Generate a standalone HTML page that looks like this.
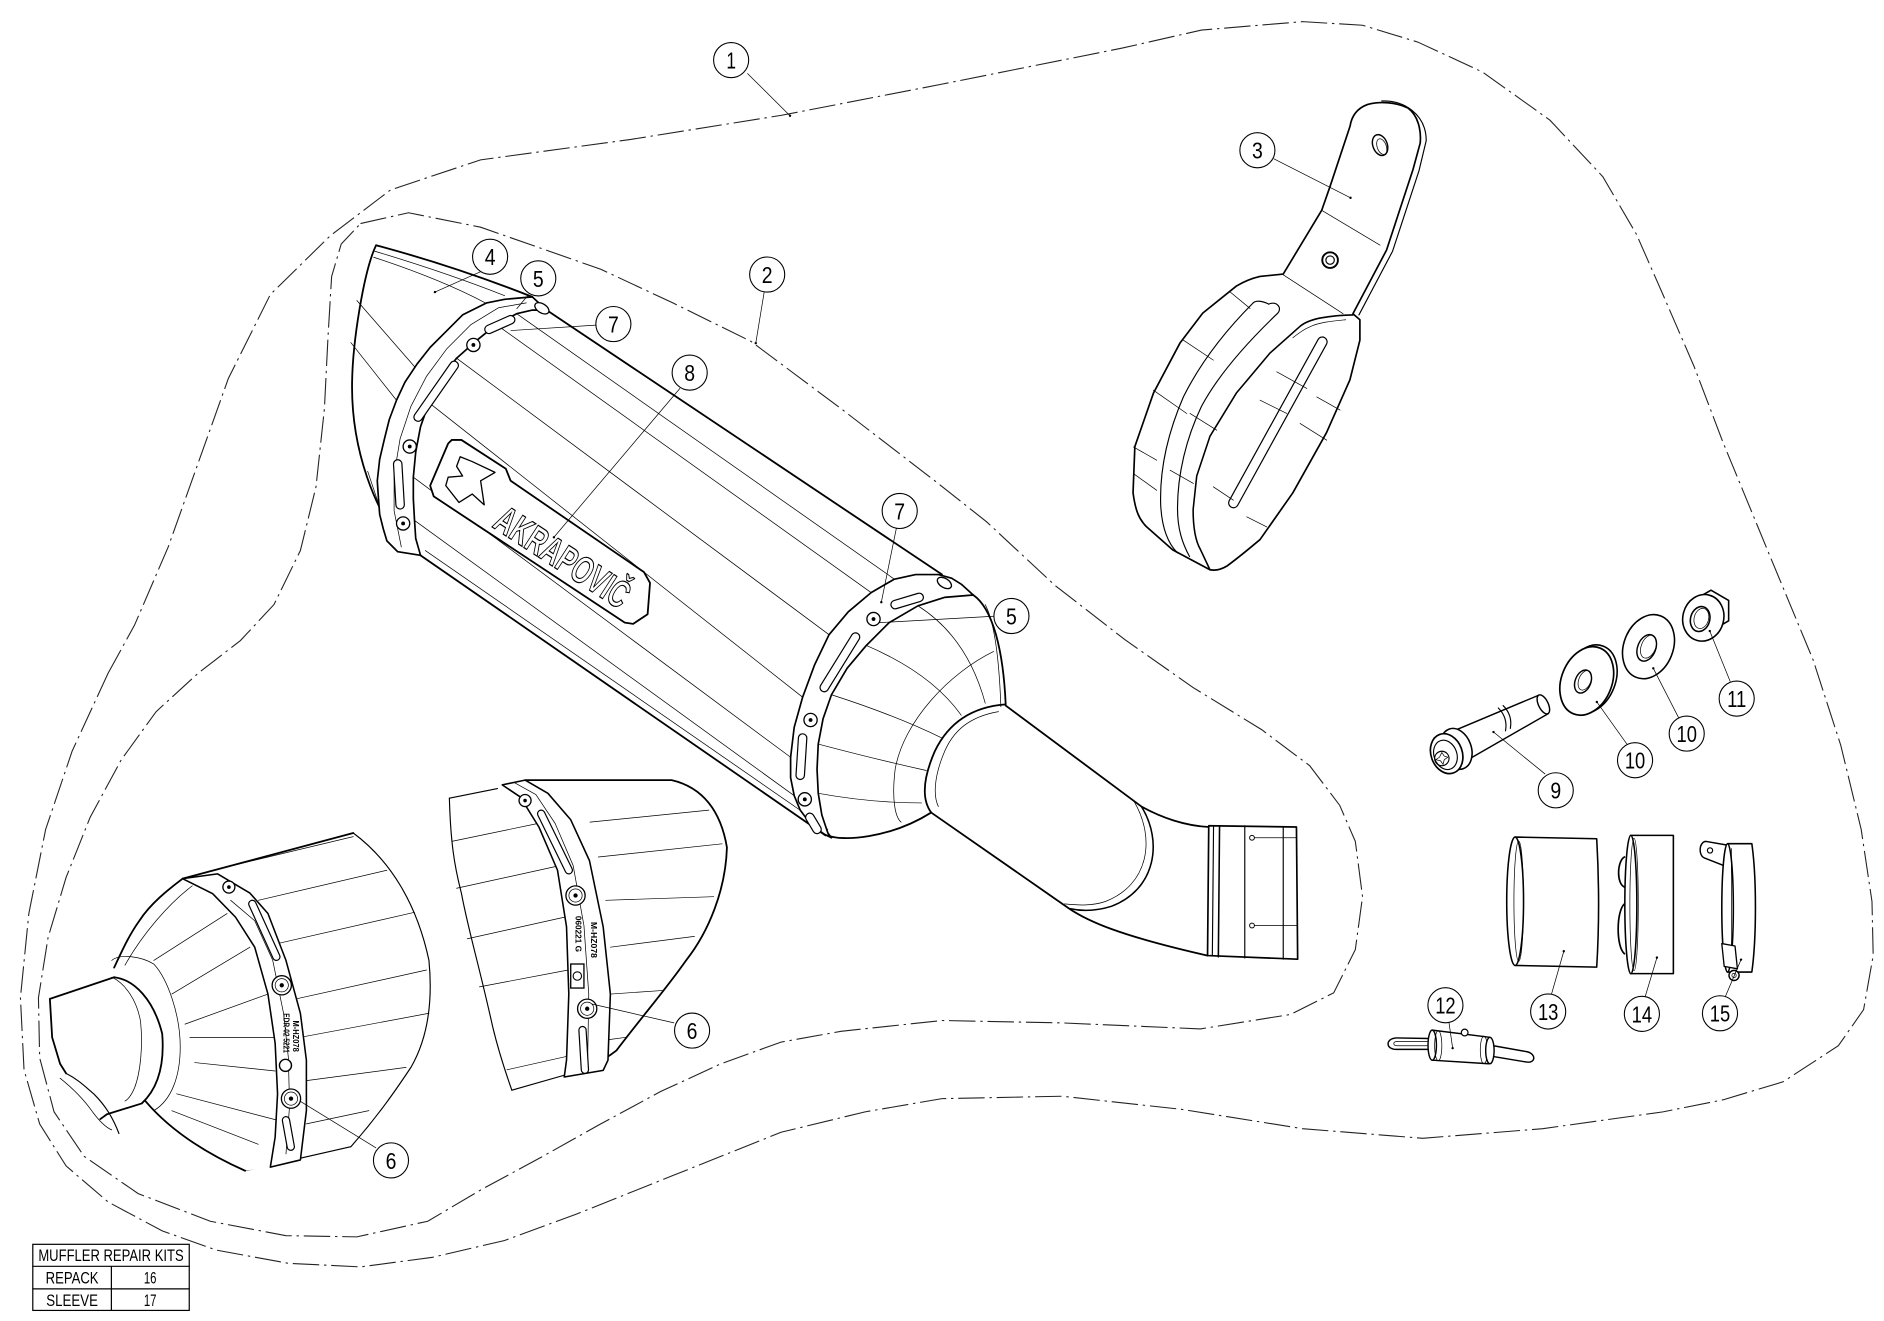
<!DOCTYPE html>
<html><head><meta charset="utf-8"><style>
html,body{margin:0;padding:0;background:#fff}
svg{display:block}
.s{fill:none;stroke:#000;stroke-linejoin:round;stroke-linecap:round}
.w{fill:#fff;stroke:#000;stroke-linejoin:round}
.t{stroke-width:.6}.m{stroke-width:.95}.b{stroke-width:1.5}
.d{fill:none;stroke:#222;stroke-width:.9;stroke-dasharray:22 4 2 4}
.co circle{fill:#fff;stroke:#000;stroke-width:.9}
.co text{font-family:"Liberation Sans Narrow","Liberation Sans",sans-serif;font-size:19px;text-anchor:middle;fill:#000}
.ld{fill:none;stroke:#000;stroke-width:.6}
.tb{font-family:"Liberation Sans Narrow","Liberation Sans",sans-serif;font-size:14px;fill:#000;text-anchor:middle}
.sm{font-family:"Liberation Sans",sans-serif;font-size:6.5px;font-weight:bold;fill:#000}
</style></head><body>
<svg width="1884" height="1321" viewBox="0 0 1568 1099" preserveAspectRatio="none" xmlns="http://www.w3.org/2000/svg">
<rect width="1568" height="1099" fill="#fff"/>

<!-- boundary 1 (outer) -->
<path class="d" d="M90,560 L112,520 L140,455 L165,385 L190,315 L225,245 L275,196 L325,158 L400,133 L525,116 L650,96 L784,70 L934,40 L1000,25 L1084,18 L1134,21 L1180,35 L1234,60 L1290,100 L1334,147 L1362,195 L1384,245 L1410,305 L1434,368 L1472,460 L1509,549 L1532,620 L1549,690 L1558,750 L1559,795 L1551,840 L1530,870 L1484,900 L1434,915 L1384,925 L1284,939 L1184,947 L1084,939 L984,923 L884,912 L784,914 L720,925 L650,942 L560,978 L480,1010 L420,1032 L360,1046 L300,1054 L240,1051 L180,1040 L135,1024 L90,1000 L55,970 L33,935 L20,890 L17,830 L24,760 L38,690 L60,625 Z"/>
<!-- boundary 2 (inner) -->
<path class="d" d="M300,186 L340,177 L400,189 L500,224 L560,252 L625,284 L700,340 L778,400 L821,434 L878,487 L936,532 L993,572 L1050,607 L1090,637 L1115,670 L1128,700 L1134,746 L1128,790 L1110,826 L1074,844 L999,856 L884,851 L784,849 L700,858 L650,867 L600,885 L550,908 L500,935 L450,963 L400,990 L356,1016 L297,1029 L238,1028 L175,1016 L115,993 L70,962 L45,925 L33,880 L32,830 L40,780 L55,730 L75,680 L101,632 L130,592 L165,560 L200,533 L228,503 L250,458 L263,405 L270,340 L273,280 L276,230 L284,203 Z"/>

<!-- ============ MAIN MUFFLER ============ -->
<!-- body lines -->
<path class="s b" d="M455,258 L784,478"/>
<path class="s b" d="M350,462 L687,695"/>
<path class="s t" d="M354,458 L689,690"/>
<path class="s t" d="M430,261 L746,483 M413,270 L725,493 M380,298 L690,528 M357,335 L668,580 M344,397 L658,630 M345,433 L661,662"/>

<!-- front cap -->
<path class="s b" d="M443,247 Q380,222 313,204 C303,225 293,285 293,322 C293,372 310,425 341,460"/>
<path class="s t" d="M312,209 Q372,227 420,246 M311,214 Q366,232 404,252"/>
<path class="s t" d="M297,250 L345,305 M292,285 L330,333 M306,392 L318,428"/>
<!-- front band -->
<path class="w" stroke-width="1.4" d="M443,247 L420,249 L405,252 L385,262 L372,275 L358,289 L347,303 L337,318 L330,333 L324,349 L320,365 L316,382 L314,400 L315,415 L316,428 L319,440 L322,450 L331,459 L350,462 L346,448 L345,433 L344,415 L344,397 L346,376 L350,355 L357,335 L366,316 L380,298 L397,283 L413,270 L430,261 L443,258 L455,258 Z"/>
<path class="s t" d="M438,252 L415,256 L392,270 L372,290 L355,313 L342,338 L333,365 L328,395 L328,425 L334,455"/>
<!-- front slots -->
<g fill="none" stroke-linecap="round">
<path d="M407,274 L425,266 M378,304 L348,347 M331,386 L333,420" stroke="#000" stroke-width="8"/>
<path d="M407,274 L425,266 M378,304 L348,347 M331,386 L333,420" stroke="#fff" stroke-width="6"/>
</g>
<!-- front rivets -->
<g class="w" stroke-width="1.1">
<circle cx="394" cy="287" r="5.5"/><circle cx="341" cy="371.5" r="5.5"/><circle cx="335.5" cy="435.5" r="5.5"/>
<ellipse cx="451" cy="256.5" rx="6.5" ry="3.8" transform="rotate(32 451 256.5)"/>
</g>
<g fill="#000"><circle cx="394" cy="287" r="1.6"/><circle cx="341" cy="371.5" r="1.6"/><circle cx="335.5" cy="435.5" r="1.6"/></g>

<!-- logo plate -->
<path class="w" stroke-width="1.5" d="M376,366 L384,366 L421,390 L425,400 L536,476 L541,485 L539,511 L527,519 L520,518 L361,413 L358,404 L373,369 Z"/>
<path class="s" stroke-width="1.1" d="M383,380 L393,384 L412,393 L400,400 L403,420 L393,411 L382,418 L371,404 L373,397 L385,396 L380,388 Z"/>
<text transform="translate(409,438) rotate(33)" font-family="Liberation Sans Narrow,Liberation Sans,sans-serif" font-size="32" font-weight="bold" textLength="127" lengthAdjust="spacingAndGlyphs" fill="#fff" stroke="#000" stroke-width="1">AKRAPOVIČ</text>

<!-- rear band -->
<path class="w" stroke-width="1.4" d="M792,481 L781,478 L762,478 L744,482 L725,493 L706,509 L690,528 L678,553 L668,580 L661,605 L658,630 L658,647 L661,662 L666,674 L675,686 L686,694 L692,697 L689,693 L684,678 L681,660 L680,640 L681,619 L685,598 L692,578 L705,556 L721,537 L740,518 L764,504 L786,497 L810,495 L800,486 Z"/>
<g fill="none" stroke-linecap="round">
<path d="M745,503 L765,497 M712,530 L686,572 M668,614 L666,645 M674,680 L680,690" stroke="#000" stroke-width="8"/>
<path d="M745,503 L765,497 M712,530 L686,572 M668,614 L666,645 M674,680 L680,690" stroke="#fff" stroke-width="6"/>
</g>
<g class="w" stroke-width="1.1">
<circle cx="727" cy="515" r="5.5"/><circle cx="674.6" cy="599" r="5.5"/><circle cx="669.8" cy="665" r="5.5"/>
<ellipse cx="786" cy="485" rx="6.5" ry="3.8" transform="rotate(32 786 485)"/>
</g>
<g fill="#000"><circle cx="727" cy="515" r="1.6"/><circle cx="674.6" cy="599" r="1.6"/><circle cx="669.8" cy="665" r="1.6"/></g>

<!-- rear cone -->
<path class="s b" d="M810,495 C826,506 835,540 837,586"/>
<path class="s b" d="M689,695 C700,700 740,698 775,676"/>
<path class="s t" d="M764,504 Q805,530 820,585 M721,537 Q775,560 800,595 M692,578 Q745,595 784,614 M681,619 Q730,632 771,641 M681,660 Q725,668 767,668"/>
<path class="s t" d="M827,542 C790,560 752,600 745,640 C742,665 745,680 750,684"/>
<path class="s t" d="M820,503 C829,520 832,560 833,588"/>
<!-- link pipe -->
<path class="s b" d="M837,586 C810,588 790,600 778,625 C768,648 767,665 775,676"/>
<path class="s t" d="M831,592 C808,596 793,607 785,628 C777,648 777,663 781,671"/>
<path class="s b" d="M837,587 L950,671 C966,680 986,687 1006,688"/>
<path class="s b" d="M775,676 L890,756 C905,766 930,778 1005,795"/>
<path class="s" stroke-width="1.3" d="M950,671 C968,700 962,740 925,754 C912,758 900,758 891,756"/>
<path class="s t" d="M944,667 C962,698 956,736 920,750 C908,754 896,753 886,752"/>
<!-- end sleeve -->
<path class="w" stroke-width="1.4" d="M1006,687 L1079,688 L1080,798 L1005,795 Z"/>
<path class="s m" d="M1010,687 L1009,795 M1036,687 L1036,797 M1068,688 L1068,798"/>
<path class="s" stroke-width="1.3" d="M1015,687 L1014,796"/>
<path class="s t" d="M1044,697 L1079,697 M1044,770 L1079,770"/>
<circle cx="1042" cy="697" r="2" class="w" stroke-width=".8"/>
<circle cx="1042" cy="770" r="2" class="w" stroke-width=".8"/>

<!-- ============ DETAIL A ============ -->
<path fill="#fff" d="M152,731 L294,693 C322,715 345,752 357,799 C360,830 357,860 341,888 C330,905 318,925 292,954 L204,974 L181,964 Z"/>
<path class="s b" d="M152,731 L294,693"/>
<path class="s t" d="M173,725 L294,696"/>
<path class="s m" d="M294,693 C325,716 347,752 357,799 C360,830 357,862 342,888 C330,906 315,928 292,954"/>
<path class="s m" d="M292,954 L204,974"/>
<path class="s t" d="M215,749 L322,724 M231,785 L345,759 M242,832 L355,807 M250,863 L357,843 M255,899 L338,888 M255,935 L307,924"/>
<!-- cap face A -->
<path fill="#fff" d="M152,731 L181,727 L225,971 L204,974 C170,962 140,940 121,916 L95,805 C110,775 130,750 152,731 Z"/>
<path class="s b" d="M152,731 C140,740 125,752 116,766 C108,777 102,790 95,805"/>
<path class="s b" d="M121,916 Q150,950 204,974"/>
<path class="s t" d="M160,737 C140,752 118,778 104,803"/>
<path class="s t" d="M93,799 C100,793 118,796 128,802 C140,815 150,845 150,871 C150,895 143,915 128,924"/>
<path class="s t" d="M128,799 L189,760 M143,827 L208,788 M154,852 L223,827 M158,863 L231,863 M162,884 L229,891 M147,910 L231,932 M143,924 L215,952"/>
<!-- band A -->
<path class="w" stroke-width="1.3" d="M152,731 L181,727 L208,743 L223,760 L238,799 L250,843 L255,882 L255,924 L250,965 L225,971 L229,946 L231,910 L229,868 L223,827 L212,788 L196,763 L177,743.5 Z"/>
<path class="s t" d="M192,749 L212,766 L227,799 L236,843 L240,880 L241,920 L238,960"/>
<g fill="none" stroke-linecap="round">
<path d="M210,752 L230,796 M238,932 L242,954" stroke="#000" stroke-width="7"/>
<path d="M210,752 L230,796 M238,932 L242,954" stroke="#fff" stroke-width="5"/>
</g>
<g class="w" stroke-width="1.1">
<circle cx="190.5" cy="738" r="5"/><circle cx="234.5" cy="819.7" r="8"/><circle cx="242.2" cy="914" r="8"/>
</g>
<g class="s t"><circle cx="234.5" cy="819.7" r="5.5"/><circle cx="242.2" cy="914" r="5.5"/></g>
<g fill="#000"><circle cx="190.5" cy="738" r="1.5"/><circle cx="234.5" cy="819.7" r="1.8"/><circle cx="242.2" cy="914" r="1.8"/></g>
<text class="sm" transform="translate(236,843) rotate(90)" textLength="33" lengthAdjust="spacingAndGlyphs">EDR-02 5221</text>
<text class="sm" transform="translate(244,849) rotate(90)" textLength="26" lengthAdjust="spacingAndGlyphs">M-HZ078</text>
<circle cx="237.6" cy="886.3" r="5" fill="#fff" stroke="#000" stroke-width="1.2"/>
<!-- tube A -->
<path class="w" stroke-width="0" d="M41.5,831 L95,813 C112,815 128,832 135,860 C137,885 130,908 118,918 L89,927 L83,931 C75,920 65,905 55,893 L43,863 Z"/>
<path class="s b" d="M41.5,831 L95,813 M41.5,831 L43.4,863 L50,885 L55,893"/>
<path class="s b" d="M95,813 C112,815 128,832 135,860 C137,885 132,905 118,918 L89,927 L83.5,931"/>
<path class="s t" d="M93,813 C104,818 114,832 117,850 C119,870 117,892 112,905 C109,912 106,915 104,916"/>
<path class="s m" d="M55,893 C65,898 72,905 78,910 C88,920 94,930 99,943"/>
<path class="s t" d="M50,897 C60,905 70,915 77,925 C83,933 88,938 93,940"/>

<!-- ============ DETAIL B ============ -->
<path fill="#fff" d="M374,664 L418,652 L559,649 C585,655 600,675 605,705 C604,740 590,775 571,799 C555,822 535,845 513,874 C500,884 490,888 475,893 L426,907 C410,860 395,810 384,743 C378,720 375,690 374,664 Z"/>
<path class="s m" d="M374,664 C375,700 378,720 384,743 C390,775 398,800 410,854 C415,875 420,890 426,907"/>
<path class="s m" d="M374,664 L414,656"/>
<path class="s b" d="M437,649 L559,649 C585,655 600,675 605,705 C604,740 590,775 571,799 C555,822 535,845 513,874 C500,884 490,888 475,893"/>
<path class="s m" d="M475,893 L426,907"/>
<path class="s t" d="M376,700 L448,685 M380,739 L462,721 M389,781 L470,763 M399,821 L473,807 M422,890 L471,879"/>
<path class="s t" d="M491,684 L590,674 M498,713 L601,702 M504,749 L594,746 M508,788 L578,779 M508,827 L552,824 M506,865 L521,863"/>
<path class="w" stroke-width="1.3" d="M418,653 L433,663 L448.5,688 L464,724 L471.5,771 L473.4,827 L471.5,882 L469.6,896 L502,890.5 L506,882 L508,827 L502,771 L490.6,716 L475,682 L456,660 L437,649 Z"/>
<path class="s t" d="M428,651 L446,661 L462,685 L477,720 L486,770 L490,827 L489,888"/>
<g fill="none" stroke-linecap="round">
<path d="M450.4,677 L473.4,724 M484.8,857 L486.8,890" stroke="#000" stroke-width="7"/>
<path d="M450.4,677 L473.4,724 M484.8,857 L486.8,890" stroke="#fff" stroke-width="5"/>
</g>
<g class="w" stroke-width="1.1">
<circle cx="437" cy="666" r="5"/><circle cx="479" cy="745" r="8"/><circle cx="488.7" cy="839.2" r="8"/>
</g>
<g class="s t"><circle cx="479" cy="745" r="5.5"/><circle cx="488.7" cy="839.2" r="5.5"/></g>
<g fill="#000"><circle cx="437" cy="666" r="1.5"/><circle cx="479" cy="745" r="1.8"/><circle cx="488.7" cy="839.2" r="1.8"/></g>
<text class="sm" transform="translate(479,762) rotate(90)" textLength="30" lengthAdjust="spacingAndGlyphs">060221 G</text>
<text class="sm" transform="translate(492,767) rotate(90)" textLength="30" lengthAdjust="spacingAndGlyphs">M-HZ078</text>
<rect x="475" y="802" width="11" height="20" fill="#fff" stroke="#000" stroke-width="1.1"/>
<circle cx="480.5" cy="812" r="3.5" fill="none" stroke="#000" stroke-width=".9"/>

<!-- ============ BRACKET 3 ============ -->
<path class="s m" d="M1150,84 C1168,83 1187,95 1187,117 L1181,142 L1159,209 L1131,262"/>
<path class="w" stroke-width="1.4" d="M1068,228 L1100,175 L1107,155 L1123.6,105 C1125,96 1130,90 1138,87 C1148,84 1162,85 1172,90 C1180,96 1183,108 1182,119 L1176,141 L1154,208 L1126,261 L1131.8,266 L1131.8,283 L1123.5,316 L1104,360 L1076,410 L1048.6,449 C1040,456 1032,463 1021,471 C1016,474 1012,475 1007,474 L976,457.5 L954,438 C948,432 945,425 943,410 L944.5,371.5 L960,327 L982,285.5 L1001,260.5 L1029,238 C1034,235 1040,232 1048.6,230 Z"/>
<path class="s t" d="M1100,175 L1148.6,204 M1068,228.6 L1117.8,261"/>
<ellipse cx="1148.6" cy="120.7" rx="6" ry="9" transform="rotate(-20 1148.6 120.7)" class="w" stroke-width="1.2"/>
<ellipse cx="1150" cy="122" rx="3.8" ry="6.8" transform="rotate(-20 1150 122)" class="s t"/>
<circle cx="1107" cy="216.4" r="6.5" class="w" stroke-width="1.6"/>
<circle cx="1107" cy="216.4" r="3.5" class="s m"/>
<path class="s" stroke-width="1.3" d="M1126,262 C1118,262 1108,263 1098.5,264.6 C1092,266 1086,268 1082,271.5 L1057,293.7 L1029,327 L1007,363 L996,396 L993,424 C993,440 995,450 999,457 L1007,474"/>
<path class="s t" d="M1120,266 C1110,267 1098,268 1090,272 C1085,274 1081,277 1076,281"/>
<path class="s m" d="M1056,253 C1062,250 1068,256 1063,261 M1043,252 C1020,275 1000,300 985,330 C972,360 965,390 966,420 C967,440 972,452 980,460"/>
<path class="s m" d="M1056,253 C1050,250 1045,250 1043,252 M1063,261 C1040,283 1015,310 1000,338 C987,365 980,395 980,423 C980,440 984,452 990,463"/>
<g fill="none" stroke-linecap="round">
<path d="M1100.5,284.4 L1026.6,418.4" stroke="#000" stroke-width="9"/>
<path d="M1100.5,284.4 L1026.6,418.4" stroke="#fff" stroke-width="7"/>
</g>
<path class="s t" d="M1023.7,242.8 L1040.4,256.6 M984.9,283 L1009.8,299.6 M959.9,324.6 L987.7,344 M943.3,371.8 L962.7,382.9 M943.3,394 L962.7,407.9 M1062.6,309.3 L1087.6,323.2 M1095.9,330.2 L1115.3,341.2 M1048.7,332.9 L1070.9,344 M990.4,344 L1012.7,357.9 M1082,352.3 L1104.2,366.2 M973.8,391.2 L993.2,402.2 M1009.8,405 L1026.5,416.1 M1037.6,430 L1054.3,438.4"/>

<!-- ============ HARDWARE ============ -->
<!-- bolt 9 -->
<path class="w" stroke-width="1.2" d="M1211,607.6 L1280.3,578.5 L1288.6,593.7 L1223.5,631 Z"/>
<ellipse cx="1284.5" cy="586" rx="4" ry="8.6" transform="rotate(-26 1284.5 586)" class="w" stroke-width="1.2"/>
<path class="s m" d="M1247,589 Q1255,597 1253,608 M1251,587 Q1259,595 1257,606"/>
<ellipse cx="1212" cy="623" rx="12.5" ry="17.5" transform="rotate(-20 1212 623)" class="w" stroke-width="1.3"/>
<ellipse cx="1204" cy="627" rx="13" ry="17" transform="rotate(-20 1204 627)" class="w" stroke-width="1.4"/>
<ellipse cx="1203" cy="628" rx="9.5" ry="12.5" transform="rotate(-20 1203 628)" class="s m"/>
<circle cx="1200" cy="631" r="6" class="s m"/>
<path class="s t" d="M1200,626 L1202,629 L1205,630 L1202,632 L1201,636 L1199,633 L1195,632 L1198,630 Z"/>
<!-- washer 10a -->
<ellipse cx="1323.5" cy="565" rx="21" ry="29.5" transform="rotate(22 1323.5 565)" class="w" stroke-width="1.3"/>
<ellipse cx="1320.6" cy="566.5" rx="21" ry="29.5" transform="rotate(22 1320.6 566.5)" class="w" stroke-width="1.4"/>
<ellipse cx="1317.5" cy="567" rx="6.5" ry="10" transform="rotate(22 1317.5 567)" class="w" stroke-width="1.2"/>
<ellipse cx="1319" cy="566" rx="5" ry="8.5" transform="rotate(22 1319 566)" class="s t"/>
<!-- washer 10b -->
<ellipse cx="1372" cy="538" rx="20.5" ry="27.5" transform="rotate(22 1372 538)" class="w" stroke-width="1.3"/>
<ellipse cx="1370.5" cy="539" rx="7.5" ry="11.5" transform="rotate(22 1370.5 539)" class="w" stroke-width="1.2"/>
<ellipse cx="1372" cy="538" rx="6" ry="10" transform="rotate(22 1372 538)" class="s t"/>
<!-- nut 11 -->
<path class="w" stroke-width="1.3" d="M1424,491 L1438.7,499.5 L1438.7,516.5 L1424,525 L1409.3,516.5 L1409.3,499.5 Z"/>
<ellipse cx="1417.6" cy="514" rx="17" ry="19.5" transform="rotate(15 1417.6 514)" class="w" stroke-width="1.3"/>
<ellipse cx="1415" cy="515" rx="8" ry="10.5" transform="rotate(15 1415 515)" class="w" stroke-width="1.3"/>
<ellipse cx="1416" cy="514.5" rx="6" ry="8.5" transform="rotate(15 1416 514.5)" class="s t"/>
<!-- sleeve 13 -->
<path class="w" stroke-width="1.3" d="M1261,696.4 L1328.9,697.8 C1331,735 1331,770 1328.9,804.6 L1261,803.2 Z"/>
<ellipse cx="1261" cy="749.8" rx="7" ry="53.4" class="w" stroke-width="1.3"/>
<ellipse cx="1264" cy="749.8" rx="4" ry="50" class="s t"/>
<!-- sleeve 14 -->
<path class="w" stroke-width="1.3" d="M1357,695 L1392.7,695 L1392.7,810 L1357,810 Z"/>
<ellipse cx="1357.3" cy="752.5" rx="5" ry="57.5" class="w" stroke-width="1.3"/>
<ellipse cx="1360" cy="752.5" rx="3.5" ry="55" class="s t"/>
<path class="s" stroke-width="1.4" d="M1352,713 C1346,716 1345,735 1352,738 M1352,752 C1345,758 1345,788 1352,793.5"/>
<!-- clamp 15 -->
<path class="w" stroke-width="1.2" d="M1437,703 L1420,700 C1414,700 1413,712 1419,714 L1437,721 Z"/>
<circle cx="1423.2" cy="707.5" r="2.2" class="s m"/>
<path class="w" stroke-width="1.3" d="M1438,701.9 L1458,701.9 C1462,730 1462,780 1458,808.7 L1438,808.7 Z"/>
<ellipse cx="1437.8" cy="755.3" rx="4.8" ry="53.4" class="w" stroke-width="1.3"/>
<path class="s t" d="M1441,706 L1441,804"/>
<path class="w" stroke-width="1.1" d="M1433,785 L1444,787 L1446,806 L1435,804 Z"/>
<circle cx="1443.2" cy="811.5" r="4.2" class="w" stroke-width="1.2"/>
<circle cx="1443.2" cy="811.5" r="1.8" class="s t"/>
<!-- spring 12 -->
<path class="s" stroke-width="1.2" d="M1189,864 L1162,863.5 C1153,864 1153,873 1162,873 L1189,873"/>
<path class="s t" d="M1189,866.5 L1163,866.5 C1159,866.5 1159,870 1163,870 L1189,870"/>
<path class="s" stroke-width="1.2" d="M1243,870 L1271,875 C1279,877 1278,885 1270,883.5 L1243,879"/>
<path class="w" stroke-width="1.2" d="M1192,857 L1240,863 L1239,885 L1192,882 Z"/>
<ellipse cx="1192" cy="869.5" rx="3.5" ry="12.5" class="w" stroke-width="1.2"/>
<ellipse cx="1197" cy="870" rx="3" ry="12.5" class="s t"/>
<ellipse cx="1235" cy="873.5" rx="3" ry="11.5" class="s t"/>
<ellipse cx="1240" cy="874" rx="3.5" ry="11" class="w" stroke-width="1.2"/>
<circle cx="1219" cy="859" r="2.8" class="w" stroke-width="1"/>

<!-- ============ LEADERS ============ -->
<path class="ld" d="M622,61 L657.5,96.3 M636,243 L629,285.5 M1060,132 L1124,164.6 M400,226 L362,243 M440,245 L430,257 M496,270.5 L425,275 M566,323 L461,447 M746,439.5 L733.5,501 M827,512.7 L732,518 M313,955 L249.6,916 M561,851 L492.5,835.3 M1286,644 L1243,609 M1354,619 L1329,584 M1397,597 L1376,556 M1440,567 L1423,525 M1206,851 L1209,872 M1291,828 L1301.5,791.4 M1369,830 L1379,796.7 M1436,829 L1449,798.4"/>
<g fill="#000">
<circle cx="657.5" cy="96.3" r="1"/><circle cx="629" cy="285.5" r="1"/><circle cx="1124" cy="164.6" r="1"/><circle cx="362" cy="243" r="1"/><circle cx="461" cy="447" r="1"/><circle cx="733.5" cy="501" r="1"/><circle cx="1243" cy="609" r="1"/><circle cx="1329" cy="584" r="1"/><circle cx="1376" cy="556" r="1"/><circle cx="1423" cy="525" r="1"/><circle cx="1209" cy="872" r="1"/><circle cx="1301.5" cy="791.4" r="1"/><circle cx="1379" cy="796.7" r="1"/><circle cx="1449" cy="798.4" r="1"/>
</g>

<!-- ============ CALLOUTS ============ -->
<g class="co">
<circle cx="608.5" cy="50" r="14.6"/><text x="608.5" y="57" textLength="8" lengthAdjust="spacingAndGlyphs">1</text>
<circle cx="638.5" cy="228.4" r="14.6"/><text x="638.5" y="235.4" textLength="9" lengthAdjust="spacingAndGlyphs">2</text>
<circle cx="1046.5" cy="125" r="14.6"/><text x="1046.5" y="132" textLength="9" lengthAdjust="spacingAndGlyphs">3</text>
<circle cx="407.9" cy="213.6" r="14.6"/><text x="407.9" y="220.6" textLength="9" lengthAdjust="spacingAndGlyphs">4</text>
<circle cx="448" cy="231.6" r="14.6"/><text x="448" y="238.6" textLength="9" lengthAdjust="spacingAndGlyphs">5</text>
<circle cx="510.5" cy="269.6" r="14.6"/><text x="510.5" y="276.6" textLength="9" lengthAdjust="spacingAndGlyphs">7</text>
<circle cx="574" cy="310" r="14.6"/><text x="574" y="317" textLength="9" lengthAdjust="spacingAndGlyphs">8</text>
<circle cx="748.8" cy="425.1" r="14.6"/><text x="748.8" y="432.1" textLength="9" lengthAdjust="spacingAndGlyphs">7</text>
<circle cx="841.8" cy="512.5" r="14.6"/><text x="841.8" y="519.5" textLength="9" lengthAdjust="spacingAndGlyphs">5</text>
<circle cx="325.4" cy="965.4" r="14.6"/><text x="325.4" y="972.4" textLength="9" lengthAdjust="spacingAndGlyphs">6</text>
<circle cx="576" cy="857.4" r="14.6"/><text x="576" y="864.4" textLength="9" lengthAdjust="spacingAndGlyphs">6</text>
<circle cx="1294.8" cy="657.5" r="14.6"/><text x="1294.8" y="664.5" textLength="9" lengthAdjust="spacingAndGlyphs">9</text>
<circle cx="1360.8" cy="632.5" r="14.6"/><text x="1360.8" y="639.5" textLength="17" lengthAdjust="spacingAndGlyphs">10</text>
<circle cx="1403.8" cy="610.3" r="14.6"/><text x="1403.8" y="617.3" textLength="17" lengthAdjust="spacingAndGlyphs">10</text>
<circle cx="1445.4" cy="581.2" r="14.6"/><text x="1445.4" y="588.2" textLength="16" lengthAdjust="spacingAndGlyphs">11</text>
<circle cx="1203" cy="836.3" r="14.6"/><text x="1203" y="843.3" textLength="17" lengthAdjust="spacingAndGlyphs">12</text>
<circle cx="1288.5" cy="841.5" r="14.6"/><text x="1288.5" y="848.5" textLength="17" lengthAdjust="spacingAndGlyphs">13</text>
<circle cx="1366.5" cy="843.5" r="14.6"/><text x="1366.5" y="850.5" textLength="17" lengthAdjust="spacingAndGlyphs">14</text>
<circle cx="1431.5" cy="843" r="14.6"/><text x="1431.5" y="850" textLength="17" lengthAdjust="spacingAndGlyphs">15</text>
</g>

<!-- ============ TABLE ============ -->
<rect x="27.3" y="1035.2" width="130.2" height="55" fill="#fff" stroke="#000" stroke-width="1"/>
<path class="s" stroke-width="1" d="M27.3,1053.5 L157.5,1053.5 M27.3,1072.3 L157.5,1072.3 M92.7,1053.5 L92.7,1090.2"/>
<text class="tb" x="92.4" y="1049.2" textLength="121" lengthAdjust="spacingAndGlyphs">MUFFLER REPAIR KITS</text>
<text class="tb" x="60" y="1068" textLength="44" lengthAdjust="spacingAndGlyphs">REPACK</text>
<text class="tb" x="125" y="1068" textLength="10.5" lengthAdjust="spacingAndGlyphs">16</text>
<text class="tb" x="60" y="1086.7" textLength="43" lengthAdjust="spacingAndGlyphs">SLEEVE</text>
<text class="tb" x="125" y="1086.7" textLength="10.5" lengthAdjust="spacingAndGlyphs">17</text>
</svg>
</body></html>
